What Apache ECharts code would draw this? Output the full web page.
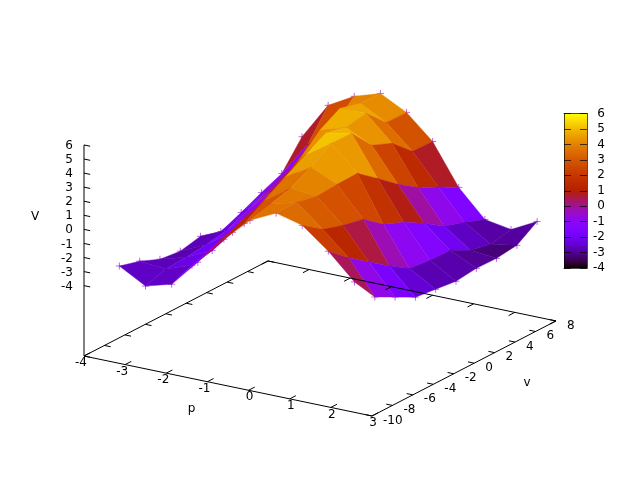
<!DOCTYPE html>
<html><head><meta charset="utf-8">
<style>html,body{margin:0;padding:0;background:#fff}#c{width:640px;height:480px}</style>
<script src="https://cdn.jsdelivr.net/npm/echarts@6/dist/echarts.min.js"></script>
</head><body><div id="c"></div>
<script>
// ---- data ----
var pValues = [-3.14,-2.505,-1.87,-1.235,-0.6,0.035,0.67,1.305,1.94,2.575];
var vValues = [-10,-8.01,-6.03,-4.04,-2.06,-0.07,1.92,3.9,5.89,7.87];
// V[i][j] : i indexes pValues, j indexes vValues
var V0 = [-2.08,-2.48,-3.09,-3.26,-2.95,-3.35,-2.75,-2.08,-1.47,0.40];
var V1 = [-3.12,-2.66,-2.56,-2.40,-2.14,-1.47,-0.80,-1.50,1.00,3.02];
var V2 = [-2.60,-2.00,-1.70,-1.15,-0.50,0.40,1.30,2.20,2.70,4.05];
var V3 = [-0.65,0.02,0.55,1.15,1.75,2.85,4.23,5.06,4.68,4.64];
var V4 = [1.37,1.75,2.64,3.52,4.34,5.17,4.84,5.10,3.71,3.68];
var V5 = [3.10,3.49,3.89,4.64,5.60,5.56,3.96,3.36,2.04,2.00];
var V6 = [4.00,4.02,3.71,3.81,3.85,2.74,1.57,0.61,-0.10,-0.88];
var V7 = [3.52,2.49,2.03,1.71,0.61,0.01,-0.81,-1.77,-2.23,-2.77];
var V8 = [2.07,0.85,-0.19,-1.22,-2.14,-2.31,-2.34,-3.09,-3.41,-3.09];
var V9 = [0.27,-1.55,-2.30,-3.05,-3.23,-3.41,-3.24,-3.27,-3.09,-2.14];
var V = [V0,V1,V2,V3,V4,V5,V6,V7,V8,V9];
var pTicks = [-4,-3,-2,-1,0,1,2,3];
var vTicks = [-10,-8,-6,-4,-2,0,2,4,6,8];
var zTicks = [6,5,4,3,2,1,0,-1,-2,-3,-4];
var cbMin = -4, cbMax = 6;

// ---- oblique view (gnuplot-like orthographic projection) ----
var pMin=-4, pMax=3, vMin=-10, vMax=8, zBase=-9;
function project(p,v,z){
  return [84+(p-pMin)*41.14+(v-vMin)*10.22,
          356+(p-pMin)*8.57-(v-vMin)*5.28-(z-zBase)*14.07];
}
function palette(t){ // gnuplot rgbformulae 7,5,15
  var g=Math.max(0,Math.min(1,t));
  var r=Math.sqrt(g), gg=g*g*g, b=Math.max(0,Math.sin(2*Math.PI*g));
  return 'rgb('+Math.round(r*255)+','+Math.round(gg*255)+','+Math.round(b*255)+')';
}
function colorOf(z){return palette((z-cbMin)/(cbMax-cbMin));}

var quads=[], marks=[];
for(var i=0;i<pValues.length-1;i++) for(var j=vValues.length-2;j>=0;j--) quads.push([i,j]);
for(var a=0;a<pValues.length;a++) for(var b=0;b<vValues.length;b++) marks.push([a,b]);

function poly(api,pts){return pts.map(function(q){return api.coord(q);});}

var segs=[];
segs.push([[pMin,vMin,zBase],[pMax,vMin,zBase]],[[pMax,vMin,zBase],[pMax,vMax,zBase]],
          [[pMax,vMax,zBase],[pMin,vMax,zBase]],[[pMin,vMax,zBase],[pMin,vMin,zBase]]);
pTicks.forEach(function(t){
  segs.push([[t,vMin,zBase],[t,vMin+0.6,zBase]],[[t,vMax,zBase],[t,vMax-0.6,zBase]]);
});
vTicks.forEach(function(t){
  segs.push([[pMin,t,zBase],[pMin+0.15,t,zBase]],[[pMax,t,zBase],[pMax-0.15,t,zBase]]);
});
var zSegs=[[[pMin,vMin,zBase],[pMin,vMin,zTicks[0]]]];
zTicks.forEach(function(t){ zSegs.push([[pMin,vMin,t],[pMin+0.15,vMin,t]]); });

var texts=[];
pTicks.forEach(function(t){var q=project(t,vMin,zBase);texts.push([q[0]+(t<0?-3:1),q[1]+7,String(t),'center']);});
vTicks.forEach(function(t){var q=project(pMax,t,zBase);texts.push([q[0]+11,q[1]+4.5,String(t),'left']);});
zTicks.forEach(function(t){var q=project(pMin,vMin,t);texts.push([q[0]-11,q[1]+1,String(t),'right']);});
texts.push([35,217,'V','center'],[191.5,409,'p','center'],[527,383,'v','center']);

function lineSeries(data,z,color,width){
  return {type:'custom',coordinateSystem:'cartesian2d',xAxisIndex:0,yAxisIndex:0,z:z,silent:true,clip:false,data:data.map(function(d,k){return [k];}),
    renderItem:function(params,api){
      var s=data[api.value(0)];
      var A=api.coord(project.apply(null,s[0])),B=api.coord(project.apply(null,s[1]));
      return {type:'line',shape:{x1:A[0],y1:A[1],x2:B[0],y2:B[1]},style:{stroke:color,lineWidth:width,fill:null}};
    }};
}

var stops=[];
for(var k=0;k<=100;k++){stops.push({offset:k/100,color:palette(1-k/100)});}

var cbLine={show:true,onZero:false,lineStyle:{color:'#000',width:1,opacity:0.7}};
var option={
  animation:false,
  backgroundColor:'#fff',
  grid:[{left:0,top:0,width:640,height:480,show:false},
        {left:564,top:113.5,width:23,height:154.5,show:false}],
  xAxis:[{type:'value',gridIndex:0,min:0,max:640,show:false},
         {type:'value',gridIndex:1,z:6,min:0,max:1,position:'bottom',axisLine:cbLine,axisTick:{show:false},axisLabel:{show:false},splitLine:{show:false}},
         {type:'value',gridIndex:1,z:6,min:0,max:1,position:'top',axisLine:cbLine,axisTick:{show:false},axisLabel:{show:false},splitLine:{show:false}}],
  yAxis:[{type:'value',gridIndex:0,min:0,max:480,inverse:true,show:false},
         {type:'value',gridIndex:1,z:6,min:cbMin,max:cbMax,interval:1,position:'right',
          axisLine:cbLine,
          axisTick:{show:true,inside:true,length:7,lineStyle:{color:'#000',opacity:0.7}},
          axisLabel:{show:true,margin:18,align:'right',color:'#000',fontFamily:'DejaVu Sans',fontSize:12,padding:[2,0,0,0]},splitLine:{show:false}},
         {type:'value',gridIndex:1,z:6,min:cbMin,max:cbMax,interval:1,position:'left',
          axisLine:cbLine,
          axisTick:{show:true,inside:true,length:7,lineStyle:{color:'#000',opacity:0.7}},
          axisLabel:{show:false},splitLine:{show:false}}],
  series:[
    {type:'custom',coordinateSystem:'cartesian2d',xAxisIndex:0,yAxisIndex:0,z:2,silent:true,clip:false,data:marks,
     renderItem:function(params,api){
       var ii=api.value(0),jj=api.value(1);
       var c=api.coord(project(pValues[ii],vValues[jj],V[ii][jj]));
       return {type:'group',children:[
         {type:'line',shape:{x1:c[0]-3.5,y1:c[1],x2:c[0]+3.5,y2:c[1]},style:{stroke:'#9400d3',lineWidth:1,opacity:.6}},
         {type:'line',shape:{x1:c[0],y1:c[1]-3.5,x2:c[0],y2:c[1]+3.5},style:{stroke:'#9400d3',lineWidth:1,opacity:.6}}]};
     }},
    {type:'custom',coordinateSystem:'cartesian2d',xAxisIndex:0,yAxisIndex:0,z:3,silent:true,clip:false,data:quads,
     renderItem:function(params,api){
       var ii=api.value(0),jj=api.value(1);
       var corners=[[ii,jj],[ii,jj+1],[ii+1,jj+1],[ii+1,jj]];
       var sum=0,pts=corners.map(function(c){sum+=V[c[0]][c[1]];return project(pValues[c[0]],vValues[c[1]],V[c[0]][c[1]]);});
       var col=colorOf(sum/4);
       return {type:'polygon',shape:{points:poly(api,pts)},style:{fill:col,stroke:col,lineWidth:0.4}};
     }},
    lineSeries(segs,4,'#000',1),
    lineSeries(zSegs,4,'#000',1),
    {type:'custom',coordinateSystem:'cartesian2d',xAxisIndex:0,yAxisIndex:0,z:5,silent:true,clip:false,data:texts.map(function(t,k){return [k];}),
     renderItem:function(params,api){
       var t=texts[api.value(0)],c=api.coord([t[0],t[1]]);
       return {type:'text',x:c[0],y:c[1],style:{text:t[2],fill:'#000',font:'12px "DejaVu Sans"',align:t[3],verticalAlign:'middle'}};
     }},
    {type:'custom',coordinateSystem:'cartesian2d',xAxisIndex:1,yAxisIndex:1,z:1,silent:true,clip:false,data:[[0]],
     renderItem:function(params,api){
       var A=api.coord([0,cbMax]),B=api.coord([1,cbMin]);
       return {type:'rect',shape:{x:A[0],y:A[1],width:B[0]-A[0],height:B[1]-A[1]},
         style:{fill:new echarts.graphic.LinearGradient(0,0,0,1,stops)}};
     }}
  ]
};
var chart=echarts.init(document.getElementById('c'),null,{renderer:'canvas'});
chart.setOption(option);
</script></body></html>
